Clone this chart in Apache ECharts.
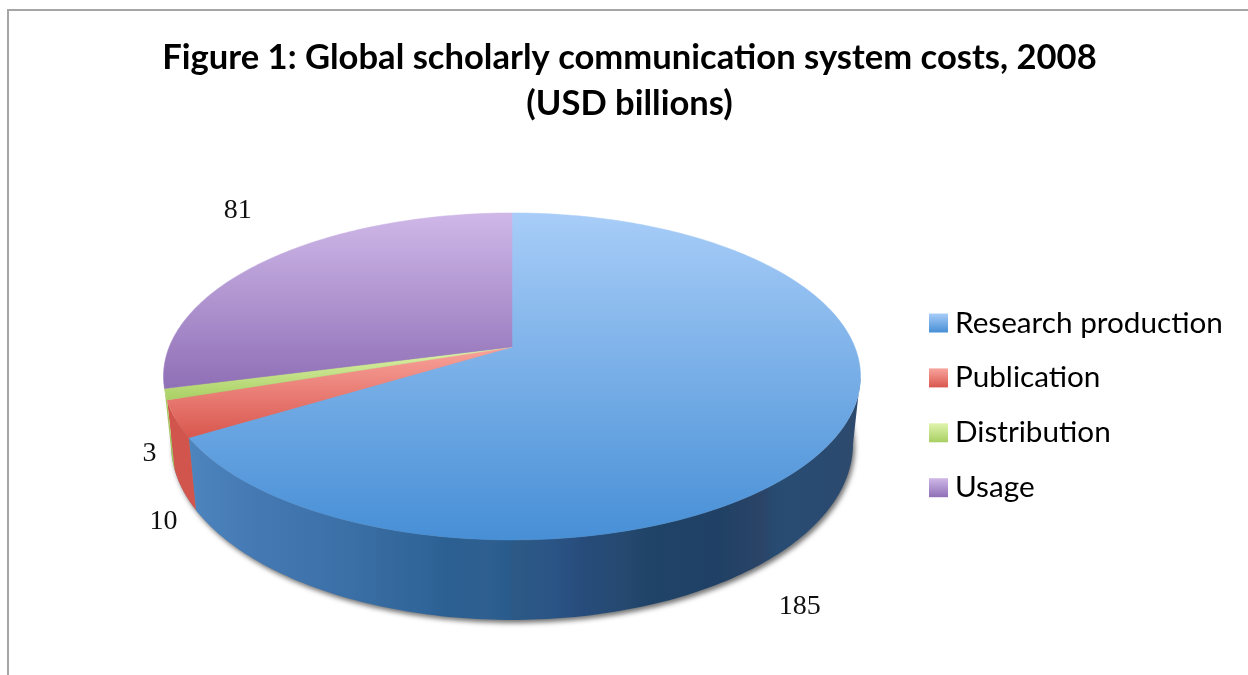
<!DOCTYPE html>
<html>
<head>
<meta charset="utf-8">
<title>Global scholarly communication system costs, 2008</title>
<script src="https://cdn.jsdelivr.net/npm/echarts@6/dist/echarts.min.js"></script>
<style>html,body{margin:0;padding:0;background:#fff}#chart{width:1248px;height:675px}</style>
</head>
<body>
<div id="chart"></div>
<script>
// Cost categories and their values in USD billions
const categories = ['Research production', 'Publication', 'Distribution', 'Usage'];
const costs = [185, 10, 3, 81];

// Slice colours: light and dark end of each top face, then the wall colour
const topLight = ['#a8cdf8', '#f9a49c', '#dff4ad', '#cfb8e8'];
const topDark = ['#478fd6', '#d9574e', '#a9cf63', '#8f6fb6'];
const wallColour = ['#3f74ab', '#d2554d', '#a6c85f', '#7c5fa0'];

// Value label placement, relative to the outer rim point of each slice
const labelOffset = [[-40, 175], [-12, 103], [-16, 59], [-30, -49]];

// Perspective ellipse of the pie's top face and of its lower rim
const TOP_RIM = { cx: 512, cy: 347, a: 158.2, b: 342.8, k: 0.18 };
const BOTTOM_RIM = { cx: 512, cy: 412.4, a: 170.2, b: 335.4, k: 0.18 };

// Wall sweep facing the viewer, clockwise from twelve o'clock
const WALL_FROM = 100.4, WALL_TO = 255.6;

const total = costs.reduce((s, v) => s + v, 0);
const startAngle = [];
costs.reduce((acc, v, i) => { startAngle[i] = acc / total * 360; return acc + v; }, 0);

// Project an angle onto a rim
function rimPoint(rim, deg) {
  const t = deg * Math.PI / 180;
  const u = Math.sin(t), v = -Math.cos(t);
  const d = 1 - rim.k * v;
  return [rim.cx + rim.b * u / d, rim.cy + rim.a * v / d];
}

function arc(rim, from, to) {
  const pts = [];
  const n = Math.max(2, Math.ceil(Math.abs(to - from)));
  for (let i = 0; i <= n; i++) pts.push(rimPoint(rim, from + (to - from) * i / n));
  return pts;
}

// Blue wall shading runs from lit at the left to dark on the right, in soft bands
const blueWallStops = [
  [0, '#4f88c2'], [0.12, '#4579b3'], [0.22, '#3d72aa'], [0.26, '#3a70a6'], [0.31, '#366a9f'],
  [0.37, '#30659a'], [0.40, '#2c6092'], [0.46, '#2e5f90'], [0.49, '#295c8c'], [0.5, '#2c5986'],
  [0.56, '#2a5485'], [0.6, '#274c7b'], [0.66, '#25496f'], [0.7, '#1f4367'], [0.8, '#204165'],
  [0.86, '#2b4467'], [0.88, '#274b71'], [0.91, '#294c72'], [0.96, '#2a4a70'], [1, '#2e4a6c']
].map(([offset, color]) => ({ offset, color }));

function sliceRenderer(index) {
  return function (params, api) {
    const value = api.value(0);
    const from = startAngle[index];
    const to = from + value / total * 360;
    const children = [];

    // Only the part of the wall facing the viewer is drawn, beneath every top face
    const wallFrom = Math.max(from, WALL_FROM), wallTo = Math.min(to, WALL_TO);
    if (wallTo > wallFrom) {
      const pts = arc(TOP_RIM, wallFrom, wallTo).concat(arc(BOTTOM_RIM, wallTo, wallFrom));
      const fill = index === 0
        ? new echarts.graphic.LinearGradient(171, 0, 858, 0, blueWallStops, true)
        : wallColour[index];
      children.push({ type: 'polygon', z2: 1, shape: { points: pts }, style: { fill } });
    }

    const face = [[TOP_RIM.cx, TOP_RIM.cy]].concat(arc(TOP_RIM, from, to));
    const grad = new echarts.graphic.LinearGradient(0, 0, 0, 1, [
      { offset: 0, color: topLight[index] }, { offset: 1, color: topDark[index] }
    ]);
    children.push({ type: 'polygon', z2: 2, shape: { points: face }, style: { fill: grad, stroke: grad, lineWidth: 0.5 } });

    const anchor = rimPoint(TOP_RIM, (from + to) / 2);
    children.push({
      type: 'text',
      z2: 3,
      x: anchor[0] + labelOffset[index][0],
      y: anchor[1] + labelOffset[index][1],
      style: {
        text: String(value), fill: '#111',
        font: '28px "Liberation Serif", serif', align: 'center', verticalAlign: 'middle'
      }
    });
    return { type: 'group', children };
  };
}

// Soft shadow cast by the pie's lower rim, laid under the slices
function shadowRenderer() {
  return {
    type: 'polygon',
    z2: 0,
    shape: { points: arc(BOTTOM_RIM, 0, 360) },
    style: {
      fill: '#8f8f8f', shadowColor: 'rgba(0,0,0,0.55)',
      shadowBlur: 5, shadowOffsetX: 2, shadowOffsetY: 3
    }
  };
}

const series = [{
  type: 'custom', name: 'rim shadow', coordinateSystem: 'none', silent: true,
  data: [total], renderItem: shadowRenderer
}].concat(categories.map((name, i) => ({
  type: 'custom',
  name,
  coordinateSystem: 'none',
  data: [[costs[i]]],
  encode: { value: 0 },
  itemStyle: {
    color: new echarts.graphic.LinearGradient(0, 0, 0, 1, [
      { offset: 0, color: topLight[i] }, { offset: 1, color: topDark[i] }
    ])
  },
  renderItem: sliceRenderer(i)
})));

const chart = echarts.init(document.getElementById('chart'), null, { renderer: 'canvas' });
chart.setOption({
  animation: false,
  backgroundColor: '#fff',
  title: {
    text: 'Figure 1: Global scholarly communication system costs, 2008\n(USD billions)',
    left: 624.5, top: 30, textAlign: 'center',
    textStyle: { fontFamily: 'Lato', fontWeight: 'bold', fontSize: 34.6, lineHeight: 46, color: '#000' }
  },
  legend: {
    data: categories,
    orient: 'vertical', left: 929, top: 308, padding: 0,
    icon: 'rect', itemWidth: 19, itemHeight: 19, itemGap: 24.9,
    textStyle: { fontFamily: 'Lato', fontSize: 29.7, color: '#000', lineHeight: 19, padding: [0, 0, 0, 2] },
    selectedMode: false
  },
  graphic: [{
    type: 'polyline', silent: true,
    shape: { points: [[8, 675], [8, 10], [1248, 10]] },
    style: { stroke: '#a6a6a6', lineWidth: 2, fill: 'none' }
  }],
  series
});
</script>
</body>
</html>
